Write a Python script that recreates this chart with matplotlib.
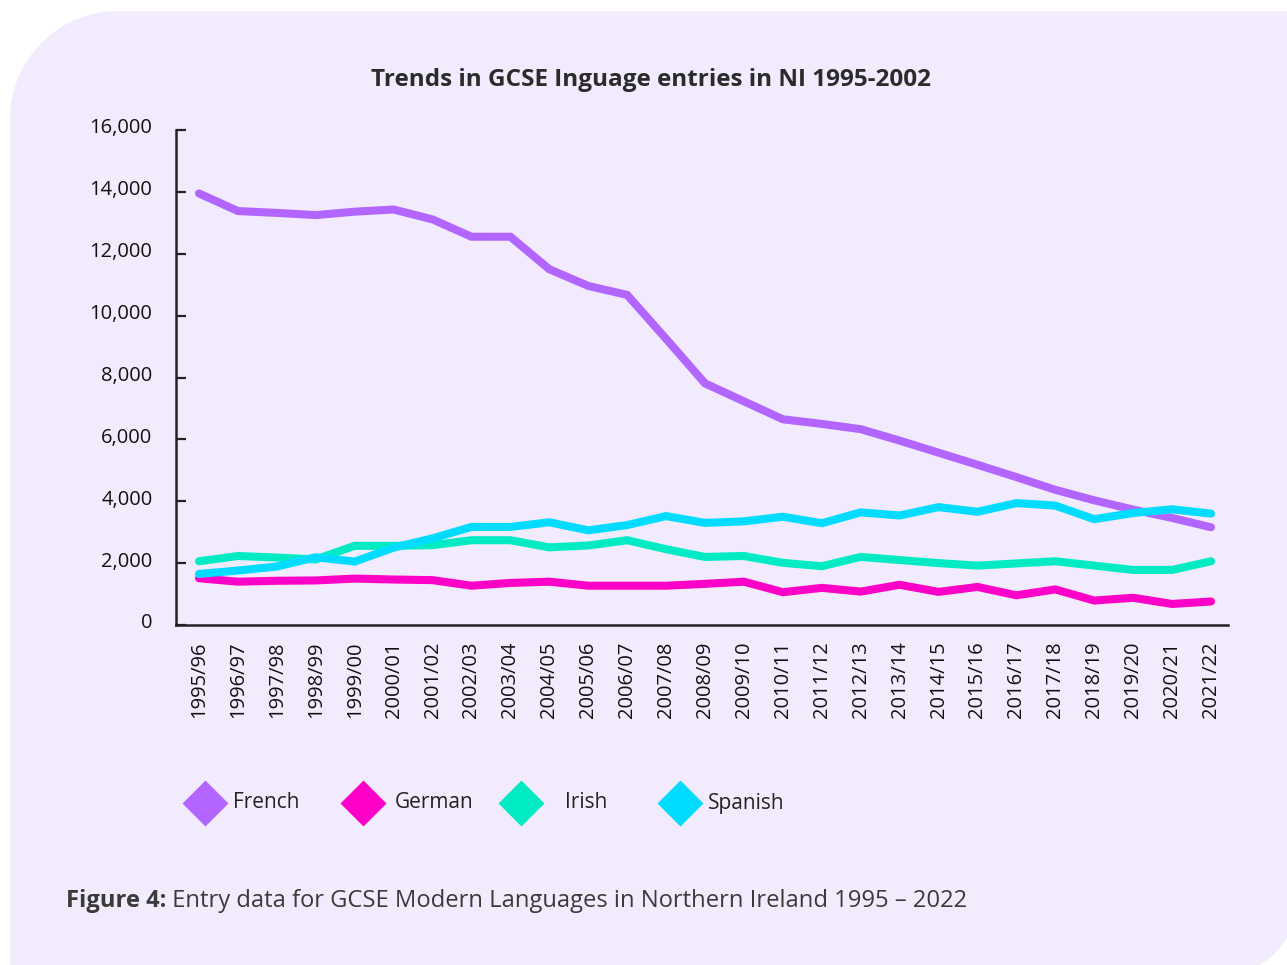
import matplotlib
matplotlib.use("Agg")
import matplotlib.pyplot as plt
from matplotlib.path import Path
from matplotlib.patches import PathPatch
from matplotlib.transforms import ScaledTranslation
import numpy as np

plt.rcParams['font.family'] = ['Open Sans', 'DejaVu Sans']

years = ['1995/96', '1996/97', '1997/98', '1998/99', '1999/00', '2000/01', '2001/02',
         '2002/03', '2003/04', '2004/05', '2005/06', '2006/07', '2007/08', '2008/09',
         '2009/10', '2010/11', '2011/12', '2012/13', '2013/14', '2014/15', '2015/16',
         '2016/17', '2017/18', '2018/19', '2019/20', '2020/21', '2021/22']

french = [13950, 13380, 13320, 13250, 13360, 13430, 13110, 12550, 12550, 11500, 10960,
          10670, 9250, 7810, 7230, 6650, 6500, 6330, 5960, 5570, 5180, 4780, 4370, 4030,
          3730, 3460, 3160]
german = [1510, 1400, 1430, 1440, 1500, 1470, 1450, 1270, 1360, 1400, 1270, 1270, 1270,
          1330, 1400, 1060, 1200, 1080, 1300, 1070, 1230, 960, 1150, 790, 880, 680, 760]
irish = [2060, 2230, 2180, 2120, 2560, 2560, 2580, 2740, 2740, 2510, 2570, 2740, 2450,
         2200, 2230, 2010, 1900, 2200, 2100, 2000, 1920, 1990, 2060, 1920, 1780, 1780, 2060]
spanish = [1650, 1760, 1890, 2190, 2050, 2500, 2800, 3170, 3170, 3320, 3060, 3230, 3520,
           3300, 3350, 3500, 3290, 3640, 3540, 3810, 3660, 3940, 3860, 3420, 3620, 3740, 3600]

series_names = ['French', 'German', 'Irish', 'Spanish']
series_values = [french, german, irish, spanish]
colors = ['#b266ff', '#ff00c8', '#00ebc3', '#00dcff']

yticks = [0, 2000, 4000, 6000, 8000, 10000, 12000, 14000, 16000]

title = 'Trends in GCSE Inguage entries in NI 1995-2002'
caption_bold = 'Figure 4:'
caption_rest = ' Entry data for GCSE Modern Languages in Northern Ireland 1995 \u2013 2022'

W, H = 1287, 965
fig = plt.figure(figsize=(W / 100, H / 100), dpi=100)
fig.patch.set_facecolor('white')

# background panel (pixel coordinates)
bg = fig.add_axes([0, 0, 1, 1], zorder=0)
bg.set_xlim(0, W)
bg.set_ylim(H, 0)
bg.axis('off')
panel_col = '#f2ebfe'
L, T, Rr, B = 10, 11, 1297, 975
R1, R2 = 108, 75
k = 0.5523
verts = [
    (L + R1, T),
    (Rr + 5, T),
    (Rr, B - R2),
    (Rr, B - R2 + k * R2), (Rr - R2 + k * R2, B), (Rr - R2, B),
    (L, B),
    (L, T + R1),
    (L, T + R1 - k * R1), (L + R1 - k * R1, T), (L + R1, T),
    (L + R1, T),
]
codes = [Path.MOVETO, Path.LINETO, Path.LINETO,
         Path.CURVE4, Path.CURVE4, Path.CURVE4,
         Path.LINETO, Path.LINETO,
         Path.CURVE4, Path.CURVE4, Path.CURVE4,
         Path.CLOSEPOLY]
bg.add_patch(PathPatch(Path(verts, codes), facecolor=panel_col, edgecolor='none'))

# Title
bg.text(651, 80, title, ha='center', va='center', fontsize=17.5, fontweight='bold',
        color='#2b2b2b')

# Legend
leg_x = [205, 363, 521, 680]
leg_tx = [233, 395, 565, 708]
for name, c, mx, tx in zip(series_names, colors, leg_x, leg_tx):
    bg.plot([mx], [803], marker='D', markersize=21, color=c, markeredgecolor=c,
            markeredgewidth=2, linestyle='none')
    bg.text(tx, 803, name, ha='left', va='center', fontsize=15, color='#222222')

# Caption
t1 = bg.text(66, 901, caption_bold, ha='left', va='center', fontsize=17.1,
             fontweight='bold', color='#3a3a3a')
fig.canvas.draw()
bb = t1.get_window_extent(renderer=fig.canvas.get_renderer())
x_end = bb.x1  # pixels
bg.text(x_end, 901, caption_rest, ha='left', va='center', fontsize=17.1,
        color='#3a3a3a')

# Main chart axes
ax_left, ax_right, ax_bottom_px, ax_top_px = 176, 1228, 625, 130
ax = fig.add_axes([ax_left / W, (H - ax_bottom_px) / H, (ax_right - ax_left) / W,
                   (ax_bottom_px - ax_top_px) / H], zorder=2)
ax.patch.set_alpha(0)
x = np.arange(len(years))
for name, vals, c in zip(series_names, series_values, colors):
    ax.plot(x, vals, color=c, linewidth=5.8, solid_capstyle='round',
            solid_joinstyle='miter', label=name)

spacing = (1211 - 199) / 26
ax.set_xlim(-(199 - ax_left) / spacing, 26 + (ax_right - 1211) / spacing)
ax.set_ylim(0, 16000)
ax.set_xticks(x)
ax.set_xticklabels(years, rotation=90, fontsize=14.5, color='#111111')
ax.set_yticks(yticks)
ax.set_yticklabels([f'{v:,}' for v in yticks], fontsize=14.5, color='#111111')
ax.tick_params(axis='y', direction='in', length=7.5, width=1.6, color='#222222', pad=17)
ax.tick_params(axis='x', length=0, pad=12)
for lab in ax.get_yticklabels():
    lab.set_transform(lab.get_transform() + ScaledTranslation(0, 4 / 100, fig.dpi_scale_trans))
for s in ['top', 'right']:
    ax.spines[s].set_visible(False)
for s in ['left', 'bottom']:
    ax.spines[s].set_color('#222222')
    ax.spines[s].set_linewidth(1.8)

fig.savefig('out.png', dpi=100, facecolor='white')
